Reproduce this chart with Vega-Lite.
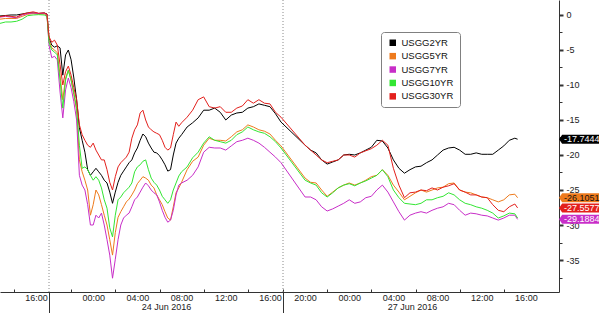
{
"$schema":"https://vega.github.io/schema/vega-lite/v6.json",
"width":559,"height":292,"autosize":"none",
"padding":{"left":0,"top":0,"right":41,"bottom":21},
"background":"white",
"config":{"view":{"stroke":null},"font":"Liberation Sans",
"locale":{"number":{"decimal":".","thousands":",","grouping":[3],"currency":["$",""],"minus":"-"}},
"axis":{"labelFont":"Liberation Sans","labelFontSize":9,"labelColor":"#222222","domainColor":"#333333","tickColor":"#333333","title":null,"grid":false}},
"datasets":{
"sessions":[{"t":"2016-06-23T20:00"},{"t":"2016-06-26T18:00"}],
"yields":[
{"s":"USGG2YR","t":"2016-06-23T12:45","v":-0.14},{"s":"USGG2YR","t":"2016-06-23T13:15","v":-0.07},{"s":"USGG2YR","t":"2016-06-23T13:45","v":0},{"s":"USGG2YR","t":"2016-06-23T14:15","v":0},{"s":"USGG2YR","t":"2016-06-23T14:45","v":0.14},{"s":"USGG2YR","t":"2016-06-23T15:15","v":0.29},{"s":"USGG2YR","t":"2016-06-23T15:45","v":0.29},{"s":"USGG2YR","t":"2016-06-23T16:15","v":0.21},{"s":"USGG2YR","t":"2016-06-23T16:45","v":0.29},{"s":"USGG2YR","t":"2016-06-23T17:00","v":0.14},
{"s":"USGG2YR","t":"2016-06-23T20:00","v":-3.3},{"s":"USGG2YR","t":"2016-06-23T20:15","v":-4.3},{"s":"USGG2YR","t":"2016-06-23T20:30","v":-4.6},{"s":"USGG2YR","t":"2016-06-23T20:45","v":-4.4},{"s":"USGG2YR","t":"2016-06-23T21:00","v":-4.7},{"s":"USGG2YR","t":"2016-06-23T21:15","v":-8.6},{"s":"USGG2YR","t":"2016-06-23T21:30","v":-5.7},{"s":"USGG2YR","t":"2016-06-23T21:45","v":-5.0},{"s":"USGG2YR","t":"2016-06-23T22:00","v":-6.4},{"s":"USGG2YR","t":"2016-06-23T22:15","v":-9.0},{"s":"USGG2YR","t":"2016-06-23T22:30","v":-12.1},{"s":"USGG2YR","t":"2016-06-23T22:45","v":-16.1},{"s":"USGG2YR","t":"2016-06-23T23:00","v":-17.9},{"s":"USGG2YR","t":"2016-06-23T23:15","v":-19.6},{"s":"USGG2YR","t":"2016-06-23T23:30","v":-22.1},{"s":"USGG2YR","t":"2016-06-23T23:45","v":-22.9},{"s":"USGG2YR","t":"2016-06-24T00:00","v":-22.4},{"s":"USGG2YR","t":"2016-06-24T00:15","v":-21.9},{"s":"USGG2YR","t":"2016-06-24T00:30","v":-22.4},{"s":"USGG2YR","t":"2016-06-24T00:45","v":-22.9},{"s":"USGG2YR","t":"2016-06-24T01:00","v":-23.6},{"s":"USGG2YR","t":"2016-06-24T01:15","v":-24.0},{"s":"USGG2YR","t":"2016-06-24T01:30","v":-25.3},{"s":"USGG2YR","t":"2016-06-24T01:45","v":-26.9},{"s":"USGG2YR","t":"2016-06-24T02:00","v":-25.3},{"s":"USGG2YR","t":"2016-06-24T02:15","v":-23.9},{"s":"USGG2YR","t":"2016-06-24T02:30","v":-22.9},{"s":"USGG2YR","t":"2016-06-24T02:45","v":-22.3},{"s":"USGG2YR","t":"2016-06-24T03:00","v":-21.7},{"s":"USGG2YR","t":"2016-06-24T03:15","v":-21.1},{"s":"USGG2YR","t":"2016-06-24T03:30","v":-20.7},{"s":"USGG2YR","t":"2016-06-24T03:45","v":-19.7},{"s":"USGG2YR","t":"2016-06-24T04:00","v":-19.0},{"s":"USGG2YR","t":"2016-06-24T04:15","v":-17.9},{"s":"USGG2YR","t":"2016-06-24T04:30","v":-17.0},{"s":"USGG2YR","t":"2016-06-24T04:45","v":-17.4},{"s":"USGG2YR","t":"2016-06-24T05:00","v":-18.3},{"s":"USGG2YR","t":"2016-06-24T05:15","v":-19.0},{"s":"USGG2YR","t":"2016-06-24T05:30","v":-19.6},{"s":"USGG2YR","t":"2016-06-24T05:45","v":-19.7},{"s":"USGG2YR","t":"2016-06-24T06:00","v":-20.1},{"s":"USGG2YR","t":"2016-06-24T06:15","v":-20.7},{"s":"USGG2YR","t":"2016-06-24T06:30","v":-21.4},{"s":"USGG2YR","t":"2016-06-24T06:45","v":-22.3},{"s":"USGG2YR","t":"2016-06-24T07:00","v":-22.1},{"s":"USGG2YR","t":"2016-06-24T07:15","v":-20.0},{"s":"USGG2YR","t":"2016-06-24T07:30","v":-18.3},{"s":"USGG2YR","t":"2016-06-24T07:45","v":-17.6},{"s":"USGG2YR","t":"2016-06-24T08:00","v":-17.1},
{"s":"USGG2YR","t":"2016-06-24T08:30","v":-16.0},{"s":"USGG2YR","t":"2016-06-24T09:00","v":-15.4},{"s":"USGG2YR","t":"2016-06-24T09:30","v":-14.7},{"s":"USGG2YR","t":"2016-06-24T10:00","v":-13.6},{"s":"USGG2YR","t":"2016-06-24T10:30","v":-13.6},{"s":"USGG2YR","t":"2016-06-24T11:00","v":-13.3},{"s":"USGG2YR","t":"2016-06-24T11:30","v":-13.9},{"s":"USGG2YR","t":"2016-06-24T12:00","v":-15.0},{"s":"USGG2YR","t":"2016-06-24T12:30","v":-14.3},{"s":"USGG2YR","t":"2016-06-24T13:00","v":-14.0},{"s":"USGG2YR","t":"2016-06-24T13:30","v":-13.9},{"s":"USGG2YR","t":"2016-06-24T14:00","v":-13.3},{"s":"USGG2YR","t":"2016-06-24T14:30","v":-13.1},{"s":"USGG2YR","t":"2016-06-24T15:00","v":-12.7},{"s":"USGG2YR","t":"2016-06-24T15:30","v":-12.9},{"s":"USGG2YR","t":"2016-06-24T16:00","v":-13.1},{"s":"USGG2YR","t":"2016-06-24T16:30","v":-14.1},{"s":"USGG2YR","t":"2016-06-24T17:00","v":-15.3},
{"s":"USGG2YR","t":"2016-06-26T20:00","v":-18.6},{"s":"USGG2YR","t":"2016-06-26T20:30","v":-19.3},{"s":"USGG2YR","t":"2016-06-26T21:00","v":-19.7},{"s":"USGG2YR","t":"2016-06-26T21:30","v":-20.7},{"s":"USGG2YR","t":"2016-06-26T22:00","v":-21.3},{"s":"USGG2YR","t":"2016-06-26T22:30","v":-21.0},{"s":"USGG2YR","t":"2016-06-26T23:00","v":-20.7},{"s":"USGG2YR","t":"2016-06-26T23:30","v":-20.0},{"s":"USGG2YR","t":"2016-06-27T00:00","v":-19.9},{"s":"USGG2YR","t":"2016-06-27T00:30","v":-20.0},{"s":"USGG2YR","t":"2016-06-27T01:00","v":-19.7},{"s":"USGG2YR","t":"2016-06-27T01:30","v":-19.3},{"s":"USGG2YR","t":"2016-06-27T02:00","v":-18.9},{"s":"USGG2YR","t":"2016-06-27T02:30","v":-17.9},{"s":"USGG2YR","t":"2016-06-27T03:00","v":-18.0},{"s":"USGG2YR","t":"2016-06-27T03:30","v":-19.0},{"s":"USGG2YR","t":"2016-06-27T04:00","v":-20.7},{"s":"USGG2YR","t":"2016-06-27T04:30","v":-21.9},{"s":"USGG2YR","t":"2016-06-27T05:00","v":-22.6},{"s":"USGG2YR","t":"2016-06-27T05:30","v":-22.1},{"s":"USGG2YR","t":"2016-06-27T06:00","v":-21.7},{"s":"USGG2YR","t":"2016-06-27T06:30","v":-21.6},{"s":"USGG2YR","t":"2016-06-27T07:00","v":-21.1},{"s":"USGG2YR","t":"2016-06-27T07:30","v":-20.7},{"s":"USGG2YR","t":"2016-06-27T08:00","v":-20.0},{"s":"USGG2YR","t":"2016-06-27T08:30","v":-19.3},{"s":"USGG2YR","t":"2016-06-27T09:00","v":-19.0},{"s":"USGG2YR","t":"2016-06-27T09:30","v":-18.9},{"s":"USGG2YR","t":"2016-06-27T10:00","v":-19.3},{"s":"USGG2YR","t":"2016-06-27T10:30","v":-19.9},{"s":"USGG2YR","t":"2016-06-27T11:00","v":-19.9},{"s":"USGG2YR","t":"2016-06-27T11:30","v":-19.7},{"s":"USGG2YR","t":"2016-06-27T12:00","v":-19.9},{"s":"USGG2YR","t":"2016-06-27T12:30","v":-19.9},{"s":"USGG2YR","t":"2016-06-27T13:00","v":-19.9},{"s":"USGG2YR","t":"2016-06-27T13:30","v":-19.3},{"s":"USGG2YR","t":"2016-06-27T14:00","v":-18.7},{"s":"USGG2YR","t":"2016-06-27T14:30","v":-17.9},{"s":"USGG2YR","t":"2016-06-27T15:00","v":-17.6},{"s":"USGG2YR","t":"2016-06-27T15:15","v":-17.7444},

{"s":"USGG5YR","t":"2016-06-23T12:45","v":-0.6},{"s":"USGG5YR","t":"2016-06-23T13:15","v":-0.5},{"s":"USGG5YR","t":"2016-06-23T13:45","v":-0.5},{"s":"USGG5YR","t":"2016-06-23T14:15","v":-0.5},{"s":"USGG5YR","t":"2016-06-23T14:45","v":-0.2},{"s":"USGG5YR","t":"2016-06-23T15:15","v":0.1},{"s":"USGG5YR","t":"2016-06-23T15:45","v":0.2},{"s":"USGG5YR","t":"2016-06-23T16:15","v":0.15},{"s":"USGG5YR","t":"2016-06-23T16:45","v":0.15},{"s":"USGG5YR","t":"2016-06-23T17:00","v":0},
{"s":"USGG5YR","t":"2016-06-23T20:00","v":-3.6},{"s":"USGG5YR","t":"2016-06-23T20:15","v":-4.7},{"s":"USGG5YR","t":"2016-06-23T20:30","v":-5.0},{"s":"USGG5YR","t":"2016-06-23T20:45","v":-5.4},{"s":"USGG5YR","t":"2016-06-23T21:00","v":-8.6},{"s":"USGG5YR","t":"2016-06-23T21:15","v":-12.1},{"s":"USGG5YR","t":"2016-06-23T21:30","v":-9.0},{"s":"USGG5YR","t":"2016-06-23T21:45","v":-7.9},{"s":"USGG5YR","t":"2016-06-23T22:00","v":-9.3},{"s":"USGG5YR","t":"2016-06-23T22:15","v":-11.4},{"s":"USGG5YR","t":"2016-06-23T22:30","v":-13.6},{"s":"USGG5YR","t":"2016-06-23T22:45","v":-20.7},{"s":"USGG5YR","t":"2016-06-23T23:00","v":-22.4},{"s":"USGG5YR","t":"2016-06-23T23:15","v":-23.6},{"s":"USGG5YR","t":"2016-06-23T23:30","v":-25.0},{"s":"USGG5YR","t":"2016-06-23T23:45","v":-28.6},{"s":"USGG5YR","t":"2016-06-24T00:00","v":-27.1},{"s":"USGG5YR","t":"2016-06-24T00:15","v":-25.0},{"s":"USGG5YR","t":"2016-06-24T00:30","v":-25.7},{"s":"USGG5YR","t":"2016-06-24T00:45","v":-27.1},{"s":"USGG5YR","t":"2016-06-24T01:00","v":-28.6},{"s":"USGG5YR","t":"2016-06-24T01:15","v":-30.0},{"s":"USGG5YR","t":"2016-06-24T01:30","v":-32.1},{"s":"USGG5YR","t":"2016-06-24T01:45","v":-34.3},{"s":"USGG5YR","t":"2016-06-24T02:00","v":-31.1},{"s":"USGG5YR","t":"2016-06-24T02:15","v":-28.9},{"s":"USGG5YR","t":"2016-06-24T02:30","v":-28.1},{"s":"USGG5YR","t":"2016-06-24T02:45","v":-27.4},{"s":"USGG5YR","t":"2016-06-24T03:00","v":-26.7},{"s":"USGG5YR","t":"2016-06-24T03:15","v":-26.3},{"s":"USGG5YR","t":"2016-06-24T03:30","v":-25.7},{"s":"USGG5YR","t":"2016-06-24T03:45","v":-25.0},{"s":"USGG5YR","t":"2016-06-24T04:00","v":-24.1},{"s":"USGG5YR","t":"2016-06-24T04:15","v":-23.6},{"s":"USGG5YR","t":"2016-06-24T04:30","v":-23.1},{"s":"USGG5YR","t":"2016-06-24T04:45","v":-23.3},{"s":"USGG5YR","t":"2016-06-24T05:00","v":-23.6},{"s":"USGG5YR","t":"2016-06-24T05:15","v":-24.3},{"s":"USGG5YR","t":"2016-06-24T05:30","v":-24.7},{"s":"USGG5YR","t":"2016-06-24T05:45","v":-25.7},{"s":"USGG5YR","t":"2016-06-24T06:00","v":-26.4},{"s":"USGG5YR","t":"2016-06-24T06:15","v":-27.1},{"s":"USGG5YR","t":"2016-06-24T06:30","v":-28.1},{"s":"USGG5YR","t":"2016-06-24T06:45","v":-29.0},{"s":"USGG5YR","t":"2016-06-24T07:00","v":-29.3},{"s":"USGG5YR","t":"2016-06-24T07:15","v":-27.4},{"s":"USGG5YR","t":"2016-06-24T07:30","v":-25.4},{"s":"USGG5YR","t":"2016-06-24T07:45","v":-24.7},{"s":"USGG5YR","t":"2016-06-24T08:00","v":-23.9},
{"s":"USGG5YR","t":"2016-06-24T08:30","v":-22.1},{"s":"USGG5YR","t":"2016-06-24T09:00","v":-20.9},{"s":"USGG5YR","t":"2016-06-24T09:30","v":-20.3},{"s":"USGG5YR","t":"2016-06-24T10:00","v":-18.6},{"s":"USGG5YR","t":"2016-06-24T10:30","v":-17.6},{"s":"USGG5YR","t":"2016-06-24T11:00","v":-17.9},{"s":"USGG5YR","t":"2016-06-24T11:30","v":-17.9},{"s":"USGG5YR","t":"2016-06-24T12:00","v":-18.0},{"s":"USGG5YR","t":"2016-06-24T12:30","v":-17.4},{"s":"USGG5YR","t":"2016-06-24T13:00","v":-16.7},{"s":"USGG5YR","t":"2016-06-24T13:30","v":-16.4},{"s":"USGG5YR","t":"2016-06-24T14:00","v":-15.7},{"s":"USGG5YR","t":"2016-06-24T14:30","v":-16.0},{"s":"USGG5YR","t":"2016-06-24T15:00","v":-16.4},{"s":"USGG5YR","t":"2016-06-24T15:30","v":-16.6},{"s":"USGG5YR","t":"2016-06-24T16:00","v":-17.0},{"s":"USGG5YR","t":"2016-06-24T16:30","v":-17.9},{"s":"USGG5YR","t":"2016-06-24T17:00","v":-18.7},
{"s":"USGG5YR","t":"2016-06-26T20:00","v":-23.3},{"s":"USGG5YR","t":"2016-06-26T20:30","v":-23.9},{"s":"USGG5YR","t":"2016-06-26T21:00","v":-24.0},{"s":"USGG5YR","t":"2016-06-26T21:30","v":-25.0},{"s":"USGG5YR","t":"2016-06-26T22:00","v":-25.9},{"s":"USGG5YR","t":"2016-06-26T22:30","v":-25.3},{"s":"USGG5YR","t":"2016-06-26T23:00","v":-24.7},{"s":"USGG5YR","t":"2016-06-26T23:30","v":-24.3},{"s":"USGG5YR","t":"2016-06-27T00:00","v":-24.0},{"s":"USGG5YR","t":"2016-06-27T00:30","v":-24.3},{"s":"USGG5YR","t":"2016-06-27T01:00","v":-24.0},{"s":"USGG5YR","t":"2016-06-27T01:30","v":-23.6},{"s":"USGG5YR","t":"2016-06-27T02:00","v":-23.1},{"s":"USGG5YR","t":"2016-06-27T02:30","v":-22.9},{"s":"USGG5YR","t":"2016-06-27T03:00","v":-22.1},{"s":"USGG5YR","t":"2016-06-27T03:30","v":-22.9},{"s":"USGG5YR","t":"2016-06-27T04:00","v":-24.3},{"s":"USGG5YR","t":"2016-06-27T04:30","v":-25.3},{"s":"USGG5YR","t":"2016-06-27T05:00","v":-26.4},{"s":"USGG5YR","t":"2016-06-27T05:30","v":-25.9},{"s":"USGG5YR","t":"2016-06-27T06:00","v":-25.4},{"s":"USGG5YR","t":"2016-06-27T06:30","v":-25.0},{"s":"USGG5YR","t":"2016-06-27T07:00","v":-25.3},{"s":"USGG5YR","t":"2016-06-27T07:30","v":-25.0},{"s":"USGG5YR","t":"2016-06-27T08:00","v":-24.7},{"s":"USGG5YR","t":"2016-06-27T08:30","v":-24.6},{"s":"USGG5YR","t":"2016-06-27T09:00","v":-24.1},{"s":"USGG5YR","t":"2016-06-27T09:30","v":-24.0},{"s":"USGG5YR","t":"2016-06-27T10:00","v":-25.0},{"s":"USGG5YR","t":"2016-06-27T10:30","v":-25.3},{"s":"USGG5YR","t":"2016-06-27T11:00","v":-25.4},{"s":"USGG5YR","t":"2016-06-27T11:30","v":-25.7},{"s":"USGG5YR","t":"2016-06-27T12:00","v":-26.0},{"s":"USGG5YR","t":"2016-06-27T12:30","v":-26.1},{"s":"USGG5YR","t":"2016-06-27T13:00","v":-26.4},{"s":"USGG5YR","t":"2016-06-27T13:30","v":-26.7},{"s":"USGG5YR","t":"2016-06-27T14:00","v":-26.4},{"s":"USGG5YR","t":"2016-06-27T14:30","v":-25.7},{"s":"USGG5YR","t":"2016-06-27T15:00","v":-25.6},{"s":"USGG5YR","t":"2016-06-27T15:15","v":-26.1051},

{"s":"USGG7YR","t":"2016-06-23T12:45","v":-0.3},{"s":"USGG7YR","t":"2016-06-23T13:15","v":-0.2},{"s":"USGG7YR","t":"2016-06-23T13:45","v":-0.3},{"s":"USGG7YR","t":"2016-06-23T14:15","v":-0.4},{"s":"USGG7YR","t":"2016-06-23T14:45","v":0},{"s":"USGG7YR","t":"2016-06-23T15:15","v":0.2},{"s":"USGG7YR","t":"2016-06-23T15:45","v":0.3},{"s":"USGG7YR","t":"2016-06-23T16:15","v":0.2},{"s":"USGG7YR","t":"2016-06-23T16:45","v":0.25},{"s":"USGG7YR","t":"2016-06-23T17:00","v":0},
{"s":"USGG7YR","t":"2016-06-23T20:00","v":-4.3},{"s":"USGG7YR","t":"2016-06-23T20:15","v":-6.1},{"s":"USGG7YR","t":"2016-06-23T20:30","v":-5.9},{"s":"USGG7YR","t":"2016-06-23T20:45","v":-6.4},{"s":"USGG7YR","t":"2016-06-23T21:00","v":-11.0},{"s":"USGG7YR","t":"2016-06-23T21:15","v":-14.7},{"s":"USGG7YR","t":"2016-06-23T21:30","v":-10.7},{"s":"USGG7YR","t":"2016-06-23T21:45","v":-9.0},{"s":"USGG7YR","t":"2016-06-23T22:00","v":-10.4},{"s":"USGG7YR","t":"2016-06-23T22:15","v":-12.4},{"s":"USGG7YR","t":"2016-06-23T22:30","v":-15.0},{"s":"USGG7YR","t":"2016-06-23T22:45","v":-22.9},{"s":"USGG7YR","t":"2016-06-23T23:00","v":-24.3},{"s":"USGG7YR","t":"2016-06-23T23:15","v":-25.0},{"s":"USGG7YR","t":"2016-06-23T23:30","v":-27.1},{"s":"USGG7YR","t":"2016-06-23T23:45","v":-30.0},{"s":"USGG7YR","t":"2016-06-24T00:00","v":-30.0},{"s":"USGG7YR","t":"2016-06-24T00:15","v":-28.6},{"s":"USGG7YR","t":"2016-06-24T00:30","v":-29.0},{"s":"USGG7YR","t":"2016-06-24T00:45","v":-28.3},{"s":"USGG7YR","t":"2016-06-24T01:00","v":-30.0},{"s":"USGG7YR","t":"2016-06-24T01:15","v":-32.1},{"s":"USGG7YR","t":"2016-06-24T01:30","v":-34.3},{"s":"USGG7YR","t":"2016-06-24T01:45","v":-37.6},{"s":"USGG7YR","t":"2016-06-24T02:00","v":-34.9},{"s":"USGG7YR","t":"2016-06-24T02:15","v":-32.1},{"s":"USGG7YR","t":"2016-06-24T02:30","v":-30.0},{"s":"USGG7YR","t":"2016-06-24T02:45","v":-29.0},{"s":"USGG7YR","t":"2016-06-24T03:00","v":-28.6},{"s":"USGG7YR","t":"2016-06-24T03:15","v":-28.3},{"s":"USGG7YR","t":"2016-06-24T03:30","v":-27.4},{"s":"USGG7YR","t":"2016-06-24T03:45","v":-26.4},{"s":"USGG7YR","t":"2016-06-24T04:00","v":-26.0},{"s":"USGG7YR","t":"2016-06-24T04:15","v":-25.3},{"s":"USGG7YR","t":"2016-06-24T04:30","v":-24.6},{"s":"USGG7YR","t":"2016-06-24T04:45","v":-24.0},{"s":"USGG7YR","t":"2016-06-24T05:00","v":-24.4},{"s":"USGG7YR","t":"2016-06-24T05:15","v":-25.0},{"s":"USGG7YR","t":"2016-06-24T05:30","v":-25.4},{"s":"USGG7YR","t":"2016-06-24T05:45","v":-25.7},{"s":"USGG7YR","t":"2016-06-24T06:00","v":-26.7},{"s":"USGG7YR","t":"2016-06-24T06:15","v":-27.9},{"s":"USGG7YR","t":"2016-06-24T06:30","v":-28.9},{"s":"USGG7YR","t":"2016-06-24T06:45","v":-29.6},{"s":"USGG7YR","t":"2016-06-24T07:00","v":-29.3},{"s":"USGG7YR","t":"2016-06-24T07:15","v":-27.9},{"s":"USGG7YR","t":"2016-06-24T07:30","v":-25.7},{"s":"USGG7YR","t":"2016-06-24T07:45","v":-24.3},{"s":"USGG7YR","t":"2016-06-24T08:00","v":-24.0},
{"s":"USGG7YR","t":"2016-06-24T08:30","v":-23.6},{"s":"USGG7YR","t":"2016-06-24T09:00","v":-22.9},{"s":"USGG7YR","t":"2016-06-24T09:30","v":-21.7},{"s":"USGG7YR","t":"2016-06-24T10:00","v":-19.6},{"s":"USGG7YR","t":"2016-06-24T10:30","v":-18.9},{"s":"USGG7YR","t":"2016-06-24T11:00","v":-19.0},{"s":"USGG7YR","t":"2016-06-24T11:30","v":-19.0},{"s":"USGG7YR","t":"2016-06-24T12:00","v":-19.3},{"s":"USGG7YR","t":"2016-06-24T12:30","v":-18.7},{"s":"USGG7YR","t":"2016-06-24T13:00","v":-18.1},{"s":"USGG7YR","t":"2016-06-24T13:30","v":-17.9},{"s":"USGG7YR","t":"2016-06-24T14:00","v":-17.6},{"s":"USGG7YR","t":"2016-06-24T14:30","v":-17.9},{"s":"USGG7YR","t":"2016-06-24T15:00","v":-18.3},{"s":"USGG7YR","t":"2016-06-24T15:30","v":-18.9},{"s":"USGG7YR","t":"2016-06-24T16:00","v":-19.6},{"s":"USGG7YR","t":"2016-06-24T16:30","v":-20.3},{"s":"USGG7YR","t":"2016-06-24T17:00","v":-21.1},
{"s":"USGG7YR","t":"2016-06-26T20:00","v":-26.0},{"s":"USGG7YR","t":"2016-06-26T20:30","v":-26.0},{"s":"USGG7YR","t":"2016-06-26T21:00","v":-26.4},{"s":"USGG7YR","t":"2016-06-26T21:30","v":-27.4},{"s":"USGG7YR","t":"2016-06-26T22:00","v":-28.0},{"s":"USGG7YR","t":"2016-06-26T22:30","v":-27.7},{"s":"USGG7YR","t":"2016-06-26T23:00","v":-27.3},{"s":"USGG7YR","t":"2016-06-26T23:30","v":-26.9},{"s":"USGG7YR","t":"2016-06-27T00:00","v":-26.4},{"s":"USGG7YR","t":"2016-06-27T00:30","v":-26.9},{"s":"USGG7YR","t":"2016-06-27T01:00","v":-26.7},{"s":"USGG7YR","t":"2016-06-27T01:30","v":-26.1},{"s":"USGG7YR","t":"2016-06-27T02:00","v":-25.9},{"s":"USGG7YR","t":"2016-06-27T02:30","v":-25.0},{"s":"USGG7YR","t":"2016-06-27T03:00","v":-24.3},{"s":"USGG7YR","t":"2016-06-27T03:30","v":-25.3},{"s":"USGG7YR","t":"2016-06-27T04:00","v":-26.7},{"s":"USGG7YR","t":"2016-06-27T04:30","v":-28.1},{"s":"USGG7YR","t":"2016-06-27T05:00","v":-29.3},{"s":"USGG7YR","t":"2016-06-27T05:30","v":-28.6},{"s":"USGG7YR","t":"2016-06-27T06:00","v":-28.3},{"s":"USGG7YR","t":"2016-06-27T06:30","v":-28.1},{"s":"USGG7YR","t":"2016-06-27T07:00","v":-28.3},{"s":"USGG7YR","t":"2016-06-27T07:30","v":-27.9},{"s":"USGG7YR","t":"2016-06-27T08:00","v":-27.6},{"s":"USGG7YR","t":"2016-06-27T08:30","v":-27.4},{"s":"USGG7YR","t":"2016-06-27T09:00","v":-26.9},{"s":"USGG7YR","t":"2016-06-27T09:30","v":-27.1},{"s":"USGG7YR","t":"2016-06-27T10:00","v":-27.9},{"s":"USGG7YR","t":"2016-06-27T10:30","v":-28.6},{"s":"USGG7YR","t":"2016-06-27T11:00","v":-28.3},{"s":"USGG7YR","t":"2016-06-27T11:30","v":-28.4},{"s":"USGG7YR","t":"2016-06-27T12:00","v":-28.6},{"s":"USGG7YR","t":"2016-06-27T12:30","v":-28.7},{"s":"USGG7YR","t":"2016-06-27T13:00","v":-29.0},{"s":"USGG7YR","t":"2016-06-27T13:30","v":-29.3},{"s":"USGG7YR","t":"2016-06-27T14:00","v":-29.0},{"s":"USGG7YR","t":"2016-06-27T14:30","v":-28.6},{"s":"USGG7YR","t":"2016-06-27T15:00","v":-28.6},{"s":"USGG7YR","t":"2016-06-27T15:15","v":-29.1884},

{"s":"USGG10YR","t":"2016-06-23T12:45","v":-1.2},{"s":"USGG10YR","t":"2016-06-23T13:15","v":-1.0},{"s":"USGG10YR","t":"2016-06-23T13:45","v":-1.0},{"s":"USGG10YR","t":"2016-06-23T14:15","v":-0.9},{"s":"USGG10YR","t":"2016-06-23T14:45","v":-0.6},{"s":"USGG10YR","t":"2016-06-23T15:15","v":-0.1},{"s":"USGG10YR","t":"2016-06-23T15:45","v":0},{"s":"USGG10YR","t":"2016-06-23T16:15","v":0.05},{"s":"USGG10YR","t":"2016-06-23T16:45","v":0},{"s":"USGG10YR","t":"2016-06-23T17:00","v":-0.2},
{"s":"USGG10YR","t":"2016-06-23T20:00","v":-3.9},{"s":"USGG10YR","t":"2016-06-23T20:15","v":-5.0},{"s":"USGG10YR","t":"2016-06-23T20:30","v":-5.3},{"s":"USGG10YR","t":"2016-06-23T20:45","v":-5.7},{"s":"USGG10YR","t":"2016-06-23T21:00","v":-9.3},{"s":"USGG10YR","t":"2016-06-23T21:15","v":-13.3},{"s":"USGG10YR","t":"2016-06-23T21:30","v":-9.3},{"s":"USGG10YR","t":"2016-06-23T21:45","v":-7.9},{"s":"USGG10YR","t":"2016-06-23T22:00","v":-9.3},{"s":"USGG10YR","t":"2016-06-23T22:15","v":-11.1},{"s":"USGG10YR","t":"2016-06-23T22:30","v":-13.3},{"s":"USGG10YR","t":"2016-06-23T22:45","v":-18.6},{"s":"USGG10YR","t":"2016-06-23T23:00","v":-21.9},{"s":"USGG10YR","t":"2016-06-23T23:15","v":-21.7},{"s":"USGG10YR","t":"2016-06-23T23:30","v":-22.1},{"s":"USGG10YR","t":"2016-06-23T23:45","v":-22.9},{"s":"USGG10YR","t":"2016-06-24T00:00","v":-23.6},{"s":"USGG10YR","t":"2016-06-24T00:15","v":-23.1},{"s":"USGG10YR","t":"2016-06-24T00:30","v":-23.6},{"s":"USGG10YR","t":"2016-06-24T00:45","v":-24.7},{"s":"USGG10YR","t":"2016-06-24T01:00","v":-26.4},{"s":"USGG10YR","t":"2016-06-24T01:15","v":-27.6},{"s":"USGG10YR","t":"2016-06-24T01:30","v":-30.4},{"s":"USGG10YR","t":"2016-06-24T01:45","v":-31.7},{"s":"USGG10YR","t":"2016-06-24T02:00","v":-28.6},{"s":"USGG10YR","t":"2016-06-24T02:15","v":-26.4},{"s":"USGG10YR","t":"2016-06-24T02:30","v":-26.0},{"s":"USGG10YR","t":"2016-06-24T02:45","v":-25.4},{"s":"USGG10YR","t":"2016-06-24T03:00","v":-25.0},{"s":"USGG10YR","t":"2016-06-24T03:15","v":-24.6},{"s":"USGG10YR","t":"2016-06-24T03:30","v":-24.0},{"s":"USGG10YR","t":"2016-06-24T03:45","v":-22.4},{"s":"USGG10YR","t":"2016-06-24T04:00","v":-21.7},{"s":"USGG10YR","t":"2016-06-24T04:15","v":-21.4},{"s":"USGG10YR","t":"2016-06-24T04:30","v":-20.9},{"s":"USGG10YR","t":"2016-06-24T04:45","v":-20.7},{"s":"USGG10YR","t":"2016-06-24T05:00","v":-22.1},{"s":"USGG10YR","t":"2016-06-24T05:15","v":-23.3},{"s":"USGG10YR","t":"2016-06-24T05:30","v":-23.9},{"s":"USGG10YR","t":"2016-06-24T05:45","v":-24.3},{"s":"USGG10YR","t":"2016-06-24T06:00","v":-25.0},{"s":"USGG10YR","t":"2016-06-24T06:15","v":-25.9},{"s":"USGG10YR","t":"2016-06-24T06:30","v":-26.4},{"s":"USGG10YR","t":"2016-06-24T06:45","v":-26.9},{"s":"USGG10YR","t":"2016-06-24T07:00","v":-26.4},{"s":"USGG10YR","t":"2016-06-24T07:15","v":-25.0},{"s":"USGG10YR","t":"2016-06-24T07:30","v":-24.0},{"s":"USGG10YR","t":"2016-06-24T07:45","v":-23.0},{"s":"USGG10YR","t":"2016-06-24T08:00","v":-22.4},
{"s":"USGG10YR","t":"2016-06-24T08:30","v":-21.7},{"s":"USGG10YR","t":"2016-06-24T09:00","v":-20.4},{"s":"USGG10YR","t":"2016-06-24T09:30","v":-19.6},{"s":"USGG10YR","t":"2016-06-24T10:00","v":-18.3},{"s":"USGG10YR","t":"2016-06-24T10:30","v":-17.4},{"s":"USGG10YR","t":"2016-06-24T11:00","v":-17.9},{"s":"USGG10YR","t":"2016-06-24T11:30","v":-18.1},{"s":"USGG10YR","t":"2016-06-24T12:00","v":-18.3},{"s":"USGG10YR","t":"2016-06-24T12:30","v":-17.9},{"s":"USGG10YR","t":"2016-06-24T13:00","v":-17.1},{"s":"USGG10YR","t":"2016-06-24T13:30","v":-16.7},{"s":"USGG10YR","t":"2016-06-24T14:00","v":-16.0},{"s":"USGG10YR","t":"2016-06-24T14:30","v":-16.4},{"s":"USGG10YR","t":"2016-06-24T15:00","v":-16.7},{"s":"USGG10YR","t":"2016-06-24T15:30","v":-16.9},{"s":"USGG10YR","t":"2016-06-24T16:00","v":-17.4},{"s":"USGG10YR","t":"2016-06-24T16:30","v":-18.1},{"s":"USGG10YR","t":"2016-06-24T17:00","v":-19.0},
{"s":"USGG10YR","t":"2016-06-26T20:00","v":-23.6},{"s":"USGG10YR","t":"2016-06-26T20:30","v":-24.0},{"s":"USGG10YR","t":"2016-06-26T21:00","v":-24.3},{"s":"USGG10YR","t":"2016-06-26T21:30","v":-25.4},{"s":"USGG10YR","t":"2016-06-26T22:00","v":-26.0},{"s":"USGG10YR","t":"2016-06-26T22:30","v":-25.4},{"s":"USGG10YR","t":"2016-06-26T23:00","v":-24.7},{"s":"USGG10YR","t":"2016-06-26T23:30","v":-24.3},{"s":"USGG10YR","t":"2016-06-27T00:00","v":-24.1},{"s":"USGG10YR","t":"2016-06-27T00:30","v":-24.4},{"s":"USGG10YR","t":"2016-06-27T01:00","v":-24.0},{"s":"USGG10YR","t":"2016-06-27T01:30","v":-23.7},{"s":"USGG10YR","t":"2016-06-27T02:00","v":-23.3},{"s":"USGG10YR","t":"2016-06-27T02:30","v":-22.9},{"s":"USGG10YR","t":"2016-06-27T03:00","v":-22.1},{"s":"USGG10YR","t":"2016-06-27T03:30","v":-23.1},{"s":"USGG10YR","t":"2016-06-27T04:00","v":-25.0},{"s":"USGG10YR","t":"2016-06-27T04:30","v":-26.1},{"s":"USGG10YR","t":"2016-06-27T05:00","v":-26.9},{"s":"USGG10YR","t":"2016-06-27T05:30","v":-27.0},{"s":"USGG10YR","t":"2016-06-27T06:00","v":-27.1},{"s":"USGG10YR","t":"2016-06-27T06:30","v":-26.9},{"s":"USGG10YR","t":"2016-06-27T07:00","v":-26.4},{"s":"USGG10YR","t":"2016-06-27T07:30","v":-26.4},{"s":"USGG10YR","t":"2016-06-27T08:00","v":-26.1},{"s":"USGG10YR","t":"2016-06-27T08:30","v":-25.9},{"s":"USGG10YR","t":"2016-06-27T09:00","v":-25.4},{"s":"USGG10YR","t":"2016-06-27T09:30","v":-25.7},{"s":"USGG10YR","t":"2016-06-27T10:00","v":-26.4},{"s":"USGG10YR","t":"2016-06-27T10:30","v":-26.9},{"s":"USGG10YR","t":"2016-06-27T11:00","v":-27.1},{"s":"USGG10YR","t":"2016-06-27T11:30","v":-27.4},{"s":"USGG10YR","t":"2016-06-27T12:00","v":-27.6},{"s":"USGG10YR","t":"2016-06-27T12:30","v":-27.9},{"s":"USGG10YR","t":"2016-06-27T13:00","v":-28.3},{"s":"USGG10YR","t":"2016-06-27T13:30","v":-29.0},{"s":"USGG10YR","t":"2016-06-27T14:00","v":-28.7},{"s":"USGG10YR","t":"2016-06-27T14:30","v":-28.3},{"s":"USGG10YR","t":"2016-06-27T15:00","v":-28.4},{"s":"USGG10YR","t":"2016-06-27T15:15","v":-29.0},

{"s":"USGG30YR","t":"2016-06-23T12:45","v":-0.24},{"s":"USGG30YR","t":"2016-06-23T13:15","v":-0.1},{"s":"USGG30YR","t":"2016-06-23T13:45","v":-0.2},{"s":"USGG30YR","t":"2016-06-23T14:15","v":-0.3},{"s":"USGG30YR","t":"2016-06-23T14:45","v":0.1},{"s":"USGG30YR","t":"2016-06-23T15:15","v":0.3},{"s":"USGG30YR","t":"2016-06-23T15:45","v":0.45},{"s":"USGG30YR","t":"2016-06-23T16:15","v":0.25},{"s":"USGG30YR","t":"2016-06-23T16:45","v":0.3},{"s":"USGG30YR","t":"2016-06-23T17:00","v":0.1},
{"s":"USGG30YR","t":"2016-06-23T20:00","v":-3.1},{"s":"USGG30YR","t":"2016-06-23T20:15","v":-3.9},{"s":"USGG30YR","t":"2016-06-23T20:30","v":-3.6},{"s":"USGG30YR","t":"2016-06-23T20:45","v":-4.3},{"s":"USGG30YR","t":"2016-06-23T21:00","v":-7.1},{"s":"USGG30YR","t":"2016-06-23T21:15","v":-10.0},{"s":"USGG30YR","t":"2016-06-23T21:30","v":-8.1},{"s":"USGG30YR","t":"2016-06-23T21:45","v":-7.3},{"s":"USGG30YR","t":"2016-06-23T22:00","v":-8.6},{"s":"USGG30YR","t":"2016-06-23T22:15","v":-10.4},{"s":"USGG30YR","t":"2016-06-23T22:30","v":-12.1},{"s":"USGG30YR","t":"2016-06-23T22:45","v":-15.7},{"s":"USGG30YR","t":"2016-06-23T23:00","v":-17.1},{"s":"USGG30YR","t":"2016-06-23T23:15","v":-17.9},{"s":"USGG30YR","t":"2016-06-23T23:30","v":-18.6},{"s":"USGG30YR","t":"2016-06-23T23:45","v":-18.9},{"s":"USGG30YR","t":"2016-06-24T00:00","v":-18.3},{"s":"USGG30YR","t":"2016-06-24T00:15","v":-19.3},{"s":"USGG30YR","t":"2016-06-24T00:30","v":-20.0},{"s":"USGG30YR","t":"2016-06-24T00:45","v":-20.7},{"s":"USGG30YR","t":"2016-06-24T01:00","v":-20.7},{"s":"USGG30YR","t":"2016-06-24T01:15","v":-22.1},{"s":"USGG30YR","t":"2016-06-24T01:30","v":-23.9},{"s":"USGG30YR","t":"2016-06-24T01:45","v":-25.0},{"s":"USGG30YR","t":"2016-06-24T02:00","v":-23.1},{"s":"USGG30YR","t":"2016-06-24T02:15","v":-21.7},{"s":"USGG30YR","t":"2016-06-24T02:30","v":-21.1},{"s":"USGG30YR","t":"2016-06-24T02:45","v":-20.7},{"s":"USGG30YR","t":"2016-06-24T03:00","v":-20.3},{"s":"USGG30YR","t":"2016-06-24T03:15","v":-19.6},{"s":"USGG30YR","t":"2016-06-24T03:30","v":-17.6},{"s":"USGG30YR","t":"2016-06-24T03:45","v":-16.4},{"s":"USGG30YR","t":"2016-06-24T04:00","v":-15.7},{"s":"USGG30YR","t":"2016-06-24T04:15","v":-14.0},{"s":"USGG30YR","t":"2016-06-24T04:30","v":-13.6},{"s":"USGG30YR","t":"2016-06-24T04:45","v":-15.0},{"s":"USGG30YR","t":"2016-06-24T05:00","v":-16.0},{"s":"USGG30YR","t":"2016-06-24T05:15","v":-16.4},{"s":"USGG30YR","t":"2016-06-24T05:30","v":-16.7},{"s":"USGG30YR","t":"2016-06-24T05:45","v":-16.9},{"s":"USGG30YR","t":"2016-06-24T06:00","v":-17.1},{"s":"USGG30YR","t":"2016-06-24T06:15","v":-17.9},{"s":"USGG30YR","t":"2016-06-24T06:30","v":-18.9},{"s":"USGG30YR","t":"2016-06-24T06:45","v":-19.3},{"s":"USGG30YR","t":"2016-06-24T07:00","v":-19.0},{"s":"USGG30YR","t":"2016-06-24T07:15","v":-17.1},{"s":"USGG30YR","t":"2016-06-24T07:30","v":-15.3},{"s":"USGG30YR","t":"2016-06-24T07:45","v":-15.9},{"s":"USGG30YR","t":"2016-06-24T08:00","v":-15.4},
{"s":"USGG30YR","t":"2016-06-24T08:30","v":-14.6},{"s":"USGG30YR","t":"2016-06-24T09:00","v":-13.6},{"s":"USGG30YR","t":"2016-06-24T09:30","v":-12.1},{"s":"USGG30YR","t":"2016-06-24T10:00","v":-11.7},{"s":"USGG30YR","t":"2016-06-24T10:30","v":-13.1},{"s":"USGG30YR","t":"2016-06-24T11:00","v":-13.3},{"s":"USGG30YR","t":"2016-06-24T11:30","v":-13.1},{"s":"USGG30YR","t":"2016-06-24T12:00","v":-13.9},{"s":"USGG30YR","t":"2016-06-24T12:30","v":-13.9},{"s":"USGG30YR","t":"2016-06-24T13:00","v":-13.3},{"s":"USGG30YR","t":"2016-06-24T13:30","v":-13.0},{"s":"USGG30YR","t":"2016-06-24T14:00","v":-12.1},{"s":"USGG30YR","t":"2016-06-24T14:30","v":-12.6},{"s":"USGG30YR","t":"2016-06-24T15:00","v":-12.1},{"s":"USGG30YR","t":"2016-06-24T15:30","v":-12.6},{"s":"USGG30YR","t":"2016-06-24T16:00","v":-12.7},{"s":"USGG30YR","t":"2016-06-24T16:30","v":-13.9},{"s":"USGG30YR","t":"2016-06-24T17:00","v":-14.6},
{"s":"USGG30YR","t":"2016-06-26T20:00","v":-18.6},{"s":"USGG30YR","t":"2016-06-26T20:30","v":-19.3},{"s":"USGG30YR","t":"2016-06-26T21:00","v":-20.0},{"s":"USGG30YR","t":"2016-06-26T21:30","v":-20.7},{"s":"USGG30YR","t":"2016-06-26T22:00","v":-21.1},{"s":"USGG30YR","t":"2016-06-26T22:30","v":-20.9},{"s":"USGG30YR","t":"2016-06-26T23:00","v":-20.7},{"s":"USGG30YR","t":"2016-06-26T23:30","v":-20.0},{"s":"USGG30YR","t":"2016-06-27T00:00","v":-20.0},{"s":"USGG30YR","t":"2016-06-27T00:30","v":-20.3},{"s":"USGG30YR","t":"2016-06-27T01:00","v":-19.7},{"s":"USGG30YR","t":"2016-06-27T01:30","v":-19.4},{"s":"USGG30YR","t":"2016-06-27T02:00","v":-19.1},{"s":"USGG30YR","t":"2016-06-27T02:30","v":-18.6},{"s":"USGG30YR","t":"2016-06-27T03:00","v":-17.9},{"s":"USGG30YR","t":"2016-06-27T03:30","v":-18.6},{"s":"USGG30YR","t":"2016-06-27T04:00","v":-21.9},{"s":"USGG30YR","t":"2016-06-27T04:30","v":-24.3},{"s":"USGG30YR","t":"2016-06-27T05:00","v":-26.1},{"s":"USGG30YR","t":"2016-06-27T05:30","v":-25.4},{"s":"USGG30YR","t":"2016-06-27T06:00","v":-25.3},{"s":"USGG30YR","t":"2016-06-27T06:30","v":-25.0},{"s":"USGG30YR","t":"2016-06-27T07:00","v":-25.1},{"s":"USGG30YR","t":"2016-06-27T07:30","v":-24.7},{"s":"USGG30YR","t":"2016-06-27T08:00","v":-25.0},{"s":"USGG30YR","t":"2016-06-27T08:30","v":-24.6},{"s":"USGG30YR","t":"2016-06-27T09:00","v":-24.4},{"s":"USGG30YR","t":"2016-06-27T09:30","v":-24.1},{"s":"USGG30YR","t":"2016-06-27T10:00","v":-25.0},{"s":"USGG30YR","t":"2016-06-27T10:30","v":-25.3},{"s":"USGG30YR","t":"2016-06-27T11:00","v":-25.7},{"s":"USGG30YR","t":"2016-06-27T11:30","v":-25.7},{"s":"USGG30YR","t":"2016-06-27T12:00","v":-26.0},{"s":"USGG30YR","t":"2016-06-27T12:30","v":-26.1},{"s":"USGG30YR","t":"2016-06-27T13:00","v":-27.1},{"s":"USGG30YR","t":"2016-06-27T13:30","v":-27.9},{"s":"USGG30YR","t":"2016-06-27T14:00","v":-28.1},{"s":"USGG30YR","t":"2016-06-27T14:30","v":-27.4},{"s":"USGG30YR","t":"2016-06-27T15:00","v":-27.0},{"s":"USGG30YR","t":"2016-06-27T15:15","v":-27.5577}
]},
"layer":[
{"data":{"name":"sessions"},
 "mark":{"type":"rule","strokeDash":[1,2],"color":"#8a8a8a","strokeWidth":1},
 "encoding":{"x":{"field":"t","type":"temporal",
  "scale":{"domain":{"expr":"[datetime(2016,5,23,12,45), datetime(2016,5,23,17,0), datetime(2016,5,23,20,0), datetime(2016,5,24,17,0), datetime(2016,5,26,18,0), datetime(2016,5,27,19,0)]"},"range":[0,47,49,281,283,559],"nice":false},
  "axis":{"orient":"bottom","values":[{"year":2016,"month":6,"date":23,"hours":20},{"year":2016,"month":6,"date":26,"hours":18}],
   "labelExpr":"timeFormat(time(datum.value) + 43200000, '%d %b %Y')","domain":false,"grid":false,"tickSize":21,"tickWidth":1,"tickColor":"#333333",
   "labelPadding":-11,"labelOffset":{"condition":{"test":"datum.index < 0.5","value":117},"value":129},
   "labelOverlap":false,"labelFlush":false,"labelBound":false,"labelAngle":0,"labelFontSize":9}}}},
{"data":{"name":"yields"},
 "mark":{"type":"line","interpolate":"linear"},
 "encoding":{
  "x":{"field":"t","type":"temporal",
   "scale":{"domain":{"expr":"[datetime(2016,5,23,12,45), datetime(2016,5,23,17,0), datetime(2016,5,23,20,0), datetime(2016,5,24,17,0), datetime(2016,5,26,18,0), datetime(2016,5,27,19,0)]"},"range":[0,47,49,281,283,559],"nice":false},
   "axis":{"orient":"bottom","values":[{"year":2016,"month":6,"date":23,"hours":16},{"year":2016,"month":6,"date":24,"hours":0},{"year":2016,"month":6,"date":24,"hours":4},{"year":2016,"month":6,"date":24,"hours":8},{"year":2016,"month":6,"date":24,"hours":12},{"year":2016,"month":6,"date":24,"hours":16},{"year":2016,"month":6,"date":26,"hours":20},{"year":2016,"month":6,"date":27,"hours":0},{"year":2016,"month":6,"date":27,"hours":4},{"year":2016,"month":6,"date":27,"hours":8},{"year":2016,"month":6,"date":27,"hours":12},{"year":2016,"month":6,"date":27,"hours":16}],
    "format":"%H:%M","tickOffset":-22,"labelOffset":22,"tickSize":-3,"labelPadding":4,"domain":true,"domainColor":"#333333","grid":false,
    "labelOverlap":false,"labelFlush":false,"labelBound":false,"labelAngle":0,"labelFontSize":9}},
  "y":{"field":"v","type":"quantitative","scale":{"domain":[-39.57,2.14],"nice":false,"zero":false},
   "axis":{"orient":"right","values":[0,-5,-10,-15,-20,-25,-30,-35],"format":"d","tickSize":4,"tickWidth":2,
    "labelPadding":3,"domainColor":"#333333","grid":false,"labelFlush":false,"labelOverlap":false,"labelFontSize":9}},
  "strokeWidth":{"value":1},
  "stroke":{"field":"s","type":"nominal",
   "scale":{"domain":["USGG30YR","USGG10YR","USGG7YR","USGG5YR","USGG2YR"],"range":["#e3201c","#33e633","#c82ec8","#ee7a1c","#000000"]},
   "legend":null}}},
{"data":{"name":"yields"},
 "transform":[{"filter":"datum.s != 'USGG10YR'"},{"joinaggregate":[{"op":"max","field":"t","as":"tmax"}],"groupby":["s"]},{"filter":"datum.t == datum.tmax"}],
 "mark":{"type":"point","shape":"M-1,0L-0.84,-0.225L1,-0.225L1,0.225L-0.84,0.225Z","filled":true,"size":1600,"x":"width","xOffset":20,"opacity":1,"strokeWidth":0},
 "encoding":{"y":{"field":"v","type":"quantitative",
   "axis":{"orient":"right","values":[-2.5,-7.5,-12.5,-17.5,-22.5,-27.5,-32.5,-37.5],"labels":false,"domain":false,"tickSize":3,"tickWidth":1,"grid":false}},
  "color":{"field":"s","type":"nominal","scale":{"domain":["USGG2YR","USGG5YR","USGG7YR","USGG10YR","USGG30YR"],"range":["#000000","#ee7a1c","#c82ec8","#33e633","#e3201c"]},
   "legend":{"orient":"none","legendX":381,"legendY":32,"title":null,"padding":6,"fillColor":"white","strokeColor":"#808080","cornerRadius":3,
    "symbolType":"square","symbolSize":42,"symbolStrokeWidth":0,"symbolOffset":1,"labelOffset":4,"labelFont":"Liberation Sans","labelFontSize":9.5,"labelColor":"#111111","rowPadding":2.4}}}},
{"data":{"name":"yields"},
 "transform":[{"filter":"datum.s != 'USGG10YR'"},{"joinaggregate":[{"op":"max","field":"t","as":"tmax"}],"groupby":["s"]},{"filter":"datum.t == datum.tmax"}],
 "mark":{"type":"text","x":"width","xOffset":5,"align":"left","baseline":"middle","font":"Liberation Sans","fontSize":9},
 "encoding":{"y":{"field":"v","type":"quantitative","axis":null},
  "text":{"field":"v","type":"quantitative","format":".4f"},
  "color":{"condition":{"test":"datum.s == 'USGG5YR'","value":"#111111"},"value":"#ffffff"}}}
],
"resolve":{"axis":{"x":"independent","y":"independent"}}
}
